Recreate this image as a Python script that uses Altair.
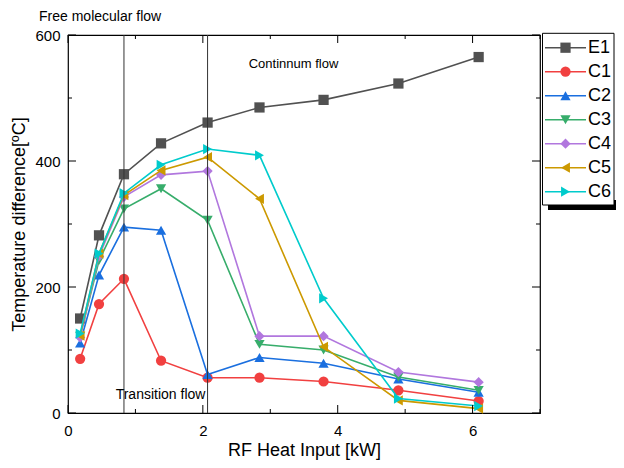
import altair as alt
import pandas as pd

# ---- data ----
x_kw = [0.18, 0.46, 0.83, 1.38, 2.07, 2.84, 3.79, 4.90, 6.09]
series_names = ["E1", "C1", "C2", "C3", "C4", "C5", "C6"]
E1 = [150, 282, 379, 428, 461, 485, 497, 523, 565]
C1 = [86, 173, 213, 83, 56, 56, 50, 36, 19]
C2 = [111, 219, 295, 290, 61, 88, 79, 54, 33]
C3 = [122, 242, 324, 356, 306, 109, 100, 57, 36]
C4 = [120, 249, 343, 378, 384, 122, 122, 65, 49]
C5 = [123, 253, 346, 385, 406, 340, 105, 20, 7]
C6 = [126, 253, 349, 394, 419, 409, 182, 23, 11]
series_values = [E1, C1, C2, C3, C4, C5, C6]
boundaries = [0.83, 2.07]
x_major = [0, 2, 4, 6]
x_minor = [1, 3, 5, 7]
y_major = [0, 200, 400, 600]
y_minor = [100, 300, 500]

colors = ["#515151", "#F14040", "#1A6FDF", "#37AD6B", "#B177DE", "#CC9900", "#00CBCC"]
shapes = ["square", "circle", "triangle-up", "triangle-down", "diamond",
          "triangle-left", "triangle-right"]

W, H = 472, 378
FONT = "Liberation Sans"
xs = alt.Scale(domain=[0, 7], nice=False, zero=False)
ys = alt.Scale(domain=[0, 600], nice=False, zero=False)

x_axis = alt.Axis(values=x_major, format="d", labelPadding=10, labelFlush=False,
                  title="RF Heat Input [kW]", titlePadding=3)
y_axis = alt.Axis(values=y_major, format="d", labelPadding=8, labelFlush=False,
                  title="Temperature difference[ºC]", titlePadding=6)

layers = []

# series (first layer carries the explicit axes)
for i, (name, vals) in enumerate(zip(series_names, series_values)):
    df = pd.DataFrame({"x": x_kw, "y": vals, "series": name})
    if i == 0:
        xe = alt.X("x:Q", scale=xs, axis=x_axis)
        ye = alt.Y("y:Q", scale=ys, axis=y_axis)
    else:
        xe = alt.X("x:Q", scale=xs)
        ye = alt.Y("y:Q", scale=ys)
    base = alt.Chart(df).encode(x=xe, y=ye)
    layers.append(base.mark_line(color=colors[i], strokeWidth=1.6))
    layers.append(base.mark_point(shape=shapes[i], filled=True, size=105,
                                  color=colors[i], opacity=1))

# boundary lines
layers.append(
    alt.Chart(pd.DataFrame({"b": boundaries}))
    .mark_rule(color="#333333", strokeWidth=1)
    .encode(x=alt.X("b:Q", scale=xs))
)

# inward ticks on all four sides
def xticks(vals, ln):
    d = pd.DataFrame({"v": vals})
    bx = alt.X("v:Q", scale=xs)
    return [
        alt.Chart(d).mark_rule(color="black", strokeWidth=1).encode(
            x=bx, y=alt.value(H), y2=alt.value(H - ln)),
        alt.Chart(d).mark_rule(color="black", strokeWidth=1).encode(
            x=bx, y=alt.value(0), y2=alt.value(ln)),
    ]

def yticks(vals, ln):
    d = pd.DataFrame({"v": vals})
    by = alt.Y("v:Q", scale=ys)
    return [
        alt.Chart(d).mark_rule(color="black", strokeWidth=1).encode(
            y=by, x=alt.value(0), x2=alt.value(ln)),
        alt.Chart(d).mark_rule(color="black", strokeWidth=1).encode(
            y=by, x=alt.value(W), x2=alt.value(W - ln)),
    ]

layers += xticks(x_major, 8) + xticks(x_minor, 4) + yticks(y_major, 8) + yticks(y_minor, 4)

# annotations
def note(label, ax, ay, fs):
    return alt.Chart(pd.DataFrame({"label": [label], "ax": [ax], "ay": [ay]})).mark_text(
        align="left", baseline="alphabetic", fontSize=fs, font=FONT, color="black"
    ).encode(x=alt.X("ax:Q", scale=xs), y=alt.Y("ay:Q", scale=ys), text="label:N")

layers.append(note("Free molecular flow", -0.43, 623, 14))
layers.append(note("Continnum flow", 2.68, 547, 13))
layers.append(note("Transition flow", 0.707, 22.5, 14))

# legend (drawn manually so each key shows line + marker)
dummy = pd.DataFrame({"a": [0]})
layers.append(alt.Chart(dummy).mark_rect(fill="black").encode(
    x=alt.value(480), x2=alt.value(548), y=alt.value(165), y2=alt.value(175)))
layers.append(alt.Chart(dummy).mark_rect(fill="white", stroke="black", strokeWidth=1).encode(
    x=alt.value(474.5), x2=alt.value(546), y=alt.value(-1.7), y2=alt.value(170)))

leg = pd.DataFrame({"name": series_names, "rank": list(range(len(series_names)))})
lc = alt.Color("name:N", scale=alt.Scale(domain=series_names, range=colors), legend=None)
lsh = alt.Shape("name:N", scale=alt.Scale(domain=series_names, range=shapes), legend=None)
lbase = alt.Chart(leg).transform_calculate(ly="12.7 + 24*datum.rank")
ly = alt.Y("ly:Q", scale=None, axis=None)
layers.append(lbase.mark_rule(strokeWidth=1.6).encode(
    x=alt.value(477), x2=alt.value(518), y=ly, color=lc))
layers.append(lbase.mark_point(filled=True, size=105, opacity=1).encode(
    x=alt.value(497.5), y=ly, color=lc, shape=lsh))
layers.append(lbase.mark_text(align="left", baseline="middle", fontSize=18,
                              font=FONT, color="black").encode(
    x=alt.value(520), y=ly, text="name:N"))

chart = alt.layer(*layers).properties(
    width=W, height=H,
    background="white",
    autosize=alt.AutoSizeParams(type="none"),
    padding={"left": 60, "top": 27, "right": 76, "bottom": 47},
).configure_view(
    stroke="black", strokeWidth=1.2
).configure_axis(
    ticks=False, tickSize=0, domain=False, grid=False,
    labelFontSize=15, labelFont=FONT, labelColor="black",
    titleFontSize=18, titleFont=FONT, titleFontWeight="normal", titleColor="black",
)

chart.save("out.html", embed_options={"renderer": "svg", "actions": False})
